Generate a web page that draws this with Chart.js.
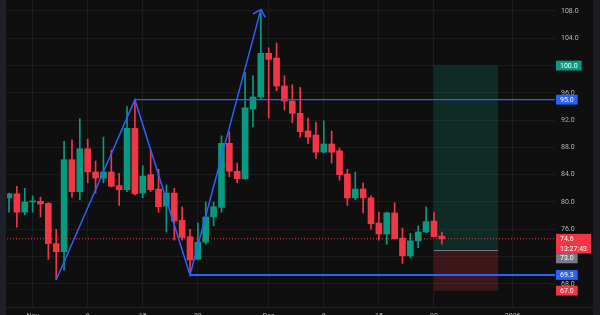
<!DOCTYPE html>
<html>
<head>
<meta charset="utf-8">
<script src="https://cdn.jsdelivr.net/npm/chart.js@4.4.1/dist/chart.umd.min.js"></script>
<style>
  html, body { margin: 0; padding: 0; background: #0f0f0f; }
  #wrap { width: 600px; height: 315px; overflow: hidden; }
  #chart { display: block; }
</style>
</head>
<body>
<div id="wrap"><canvas id="chart" width="600" height="325"></canvas></div>
<script>
// daily candles, index 1 = first visible bar
const opens  = [80.6, 81.2, 78.5, 80.0, 80.1, 79.8, 73.9, 72.7, 86.2, 81.5, 87.8, 84.4, 83.5, 84.4, 82.4, 81.8, 90.8, 81.3, 84.0, 81.9, 79.4, 81.3, 77.3, 74.9, 71.6, 74.1, 77.8, 79.2, 88.6, 84.5, 83.4, 93.6, 95.4, 101.8, 101.1, 97.0, 94.8, 93.0, 90.4, 89.8, 87.3, 88.5, 87.5, 84.1, 80.6, 81.9, 80.6, 76.9, 75.3, 78.4, 74.7, 72.1, 74.3, 75.6, 77.2, 75.0];
const highs  = [81.3, 82.3, 82.0, 80.9, 80.7, 79.9, 76.0, 88.9, 89.1, 92.2, 89.2, 86.0, 89.5, 87.6, 84.2, 94.0, 95.0, 85.3, 87.6, 84.8, 82.5, 82.0, 79.3, 76.0, 76.9, 80.0, 80.0, 89.7, 90.3, 85.7, 99.0, 98.5, 107.7, 102.6, 103.3, 98.5, 97.2, 96.8, 92.3, 91.7, 91.9, 90.4, 87.9, 84.8, 84.4, 82.8, 80.9, 78.5, 78.5, 79.9, 76.2, 75.4, 76.5, 79.3, 78.5, 75.6];
const lows   = [78.5, 76.3, 78.1, 78.5, 77.8, 71.6, 68.6, 70.0, 80.7, 80.3, 82.8, 81.3, 82.8, 82.2, 79.5, 81.5, 81.0, 80.6, 81.5, 78.5, 75.6, 74.4, 74.4, 69.3, 71.5, 73.8, 76.5, 78.5, 83.7, 82.8, 83.3, 91.0, 95.1, 92.3, 96.3, 93.5, 91.6, 89.5, 88.6, 86.4, 87.2, 85.7, 83.2, 79.5, 80.3, 78.4, 76.0, 74.4, 73.8, 74.6, 71.0, 71.8, 73.3, 75.5, 74.9, 73.8];
const closes = [81.2, 78.5, 80.0, 80.1, 79.7, 73.9, 72.7, 86.2, 81.5, 87.8, 84.4, 83.5, 84.4, 82.3, 81.8, 90.8, 81.2, 83.8, 81.8, 79.3, 81.3, 77.2, 74.8, 71.5, 74.1, 77.8, 79.3, 88.6, 84.5, 83.4, 93.8, 95.4, 101.8, 100.9, 97.0, 94.8, 93.0, 90.3, 89.5, 87.3, 88.5, 87.3, 84.0, 80.6, 81.9, 80.6, 76.8, 75.3, 78.4, 74.6, 72.1, 74.3, 75.6, 77.1, 74.9, 74.6];

const xTicks = [4, 11, 18, 25, 34, 41, 48, 55, 65];
const xTickLabels = ["Nov", "8", "15", "22", "Dec", "8", "15", "22", "2026"];
const yTicks = [68, 72, 76, 80, 84, 88, 92, 96, 100, 104, 108];

// drawing: zigzag with arrow, and two horizontal levels
const patternX = [7, 17, 24, 33];
const patternY = [68.55, 95.0, 69.3, 108.2];
const levelFrom = [17, 24];
const levelPrice = [95.0, 69.3];

// long position tool
const positionRange = [55.0, 63.15];
const targetPrice = 100.0;
const entryPrice = 73.0;
const stopPrice = 67.0;

const lastPrice = 74.6;
const countdown = "13:27:43";

const X_MIN = 0.746, X_MAX = 70.38;
const Y_MIN = 64.6, Y_MAX = 109.61;

const UP = "#089981", DOWN = "#f23645", BLUE = "#2962ff";
const FONT = "Roboto";

const candleColors = closes.map((c, i) => (c >= opens[i] ? UP : DOWN));
const fmt = (v) => v.toFixed(1);

const wickData = lows.map((l, i) => ({ x: i + 1, y: [l, highs[i]] }));
const bodyData = opens.map((o, i) => ({ x: i + 1, y: [o, closes[i]] }));

const overlay = {
  id: "overlay",
  beforeDraw(chart) {
    const ctx = chart.ctx;
    ctx.save();
    ctx.fillStyle = "#0f0f0f";
    ctx.fillRect(0, 0, chart.width, chart.height);
    ctx.restore();
  },
  beforeDatasetsDraw(chart) {
    const { ctx, scales: { x, y } } = chart;
    const x0 = x.getPixelForValue(positionRange[0]);
    const x1 = x.getPixelForValue(positionRange[1]);
    const yT = y.getPixelForValue(targetPrice);
    const yE = y.getPixelForValue(entryPrice);
    const yS = y.getPixelForValue(stopPrice);
    ctx.save();
    ctx.fillStyle = "rgba(8,153,129,0.2)";
    ctx.fillRect(x0, yT, x1 - x0, yE - yT);
    ctx.fillStyle = "rgba(242,54,69,0.2)";
    ctx.fillRect(x0, yE, x1 - x0, yS - yE);
    ctx.strokeStyle = "#787b86";
    ctx.lineWidth = 1;
    ctx.beginPath();
    ctx.moveTo(x0, Math.round(yE) + 0.5);
    ctx.lineTo(x1, Math.round(yE) + 0.5);
    ctx.stroke();
    ctx.restore();
  },
  afterDraw(chart) {
    const { ctx, scales: { x, y } } = chart;
    ctx.save();

    // arrow head on the last zigzag leg
    const n = patternX.length;
    const tx = x.getPixelForValue(patternX[n - 1]), ty = y.getPixelForValue(patternY[n - 1]);
    const px = x.getPixelForValue(patternX[n - 2]), py = y.getPixelForValue(patternY[n - 2]);
    const back = Math.atan2(py - ty, px - tx);
    ctx.strokeStyle = BLUE;
    ctx.lineWidth = 1.5;
    ctx.beginPath();
    ctx.moveTo(tx + 9 * Math.cos(back + 0.8), ty + 9 * Math.sin(back + 0.8));
    ctx.lineTo(tx, ty);
    ctx.lineTo(tx + 9 * Math.cos(back - 0.8), ty + 9 * Math.sin(back - 0.8));
    ctx.stroke();

    // side strips and bottom border
    ctx.fillStyle = "#1d2029";
    ctx.fillRect(0, 0, 6, chart.height);
    ctx.fillStyle = "#1a1c22";
    ctx.fillRect(593, 0, 7, chart.height);
    ctx.strokeStyle = "#252525";
    ctx.lineWidth = 1;
    ctx.beginPath();
    ctx.moveTo(6, chart.chartArea.bottom + 0.5);
    ctx.lineTo(593, chart.chartArea.bottom + 0.5);
    ctx.stroke();

    // price scale tags
    const tags = [
      { value: targetPrice, lines: [fmt(targetPrice)], bg: UP },
      { value: levelPrice[0], lines: [fmt(levelPrice[0])], bg: BLUE },
      { value: lastPrice, lines: [fmt(lastPrice), countdown], bg: DOWN },
      { value: entryPrice, lines: [fmt(entryPrice)], bg: "#787b86" },
      { value: levelPrice[1], lines: [fmt(levelPrice[1])], bg: BLUE },
      { value: stopPrice, lines: [fmt(stopPrice)], bg: DOWN },
    ].map((t) => ({ ...t, py: y.getPixelForValue(t.value) }))
     .sort((a, b) => a.py - b.py);

    ctx.font = "7px " + FONT;
    ctx.textBaseline = "middle";
    ctx.textAlign = "left";
    let prevBottom = -Infinity;
    const lineH = 9.8;
    tags.forEach((t) => {
      let top = t.py - lineH / 2;
      if (top < prevBottom) top = prevBottom;
      const h = lineH * t.lines.length;
      const w = Math.max(...t.lines.map((s) => ctx.measureText(s).width)) + 8;
      ctx.fillStyle = t.bg;
      ctx.fillRect(556, top, w, h);
      ctx.fillStyle = "#ffffff";
      t.lines.forEach((s, k) => ctx.fillText(s, 560, top + lineH * k + lineH / 2 + 0.3));
      prevBottom = top + h;
    });

    ctx.restore();
  },
};

new Chart(document.getElementById("chart"), {
  type: "bar",
  data: {
    datasets: [
      {
        label: "wicks",
        data: wickData,
        backgroundColor: candleColors,
        barThickness: 1,
        grouped: false,
        order: 5,
      },
      {
        label: "bodies",
        data: bodyData,
        backgroundColor: candleColors,
        barThickness: 6,
        minBarLength: 1,
        grouped: false,
        order: 4,
      },
      {
        type: "line",
        label: "last",
        data: [{ x: X_MIN, y: lastPrice }, { x: X_MAX, y: lastPrice }],
        borderColor: DOWN,
        borderWidth: 1,
        borderDash: [1, 2],
        pointRadius: 0,
        order: 3,
      },
      {
        type: "line",
        label: "zigzag",
        data: patternX.map((px, i) => ({ x: px, y: patternY[i] })),
        borderColor: BLUE,
        borderWidth: 1.5,
        pointRadius: 0,
        tension: 0,
        order: 1,
      },
      {
        type: "line",
        label: "level1",
        data: [{ x: levelFrom[0], y: levelPrice[0] }, { x: X_MAX, y: levelPrice[0] }],
        borderColor: BLUE,
        borderWidth: 1.2,
        pointRadius: 0,
        order: 1,
      },
      {
        type: "line",
        label: "level2",
        data: [{ x: levelFrom[1], y: levelPrice[1] }, { x: X_MAX, y: levelPrice[1] }],
        borderColor: BLUE,
        borderWidth: 2,
        pointRadius: 0,
        order: 1,
      },
    ],
  },
  options: {
    responsive: false,
    animation: false,
    layout: { autoPadding: false, padding: { left: 7, right: 0, top: 0, bottom: 0 } },
    plugins: { legend: { display: false }, tooltip: { enabled: false } },
    scales: {
      x: {
        type: "linear",
        min: X_MIN,
        max: X_MAX,
        offset: false,
        afterFit: (scale) => {
          scale.height = 18;
          scale.paddingLeft = 0;
          scale.paddingRight = 0;
        },
        afterBuildTicks: (scale) => { scale.ticks = xTicks.map((v) => ({ value: v })); },
        grid: { color: "rgba(242,242,242,0.06)", drawTicks: false, offset: false },
        border: { display: false },
        ticks: {
          color: "#b2b5be",
          font: { family: FONT, size: 7 },
          padding: 5,
          maxRotation: 0,
          autoSkip: false,
          callback: (v, i) => xTickLabels[i],
        },
      },
      y: {
        position: "right",
        min: Y_MIN,
        max: Y_MAX,
        afterFit: (scale) => {
          scale.width = 45;
          scale.paddingTop = 0;
          scale.paddingBottom = 0;
        },
        afterBuildTicks: (scale) => { scale.ticks = yTicks.map((v) => ({ value: v })); },
        grid: { color: "rgba(242,242,242,0.06)", drawTicks: false },
        border: { display: false },
        ticks: {
          color: "#b2b5be",
          font: { family: FONT, size: 7 },
          padding: 6,
          autoSkip: false,
          callback: (v) => fmt(v),
        },
      },
    },
  },
  plugins: [overlay],
});
</script>
</body>
</html>
